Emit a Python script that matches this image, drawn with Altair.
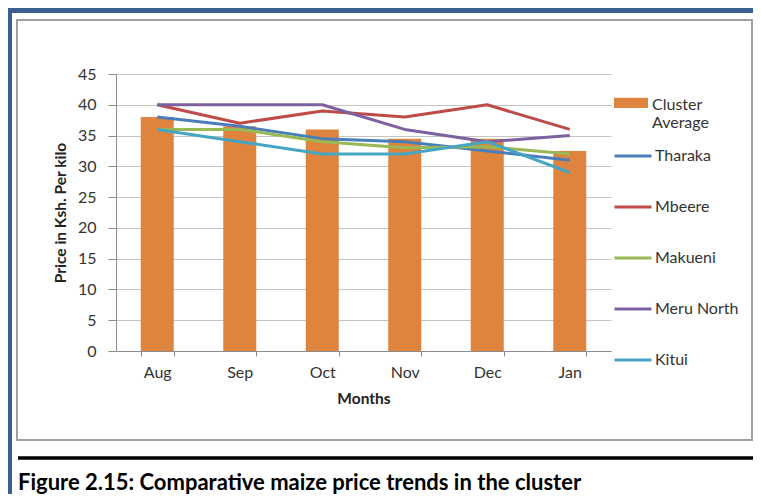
import altair as alt
import pandas as pd

MONTHS = ["Aug", "Sep", "Oct", "Nov", "Dec", "Jan"]
CLUSTER_AVG = [38, 36.5, 36, 34.5, 34.5, 32.5]
THARAKA = [38, 36.5, 34.5, 34, 32.5, 31]
MBEERE = [40, 37, 39, 38, 40, 36]
MAKUENI = [36, 36, 34, 33, 33.2, 32]
MERU_NORTH = [40, 40, 40, 36, 34, 35]
KITUI = [36, 34, 32, 32, 34, 29]

LINE_NAMES = ["Tharaka", "Mbeere", "Makueni", "Meru North", "Kitui"]
LINE_VALUES = [THARAKA, MBEERE, MAKUENI, MERU_NORTH, KITUI]
LINE_COLORS = ["#4A7EBB", "#BE4B48", "#98B954", "#7D60A0", "#46A5C2"]
BAR_NAME = "Cluster Average"
BAR_COLOR = "#DE843F"
Y_TICKS = [0, 5, 10, 15, 20, 25, 30, 35, 40, 45]
Y_TITLE = "Price in Ksh. Per kilo"
X_TITLE = "Months"
CAPTION = "Figure 2.15: Comparative maize price trends in the cluster"

FONT = "Lato"

bar_df = pd.DataFrame({"Month": MONTHS, "Price": CLUSTER_AVG, "Series": BAR_NAME})
rows = []
for name, vals in zip(LINE_NAMES, LINE_VALUES):
    for m, v in zip(MONTHS, vals):
        rows.append({"Month": m, "Price": v, "Series": name})
line_df = pd.DataFrame(rows)

x_enc = alt.X(
    "Month:N",
    sort=MONTHS,
    title=X_TITLE,
    scale=alt.Scale(paddingInner=0.6, paddingOuter=0.3),
    axis=alt.Axis(
        labelAngle=0, tickBand="extent", tickSize=5, labelPadding=8,
        titlePadding=11, domainColor="#8C8C8C", tickColor="#8C8C8C", grid=False,
    ),
)
y_enc = alt.Y(
    "Price:Q",
    title=Y_TITLE,
    scale=alt.Scale(domain=[0, 45], nice=False),
    axis=alt.Axis(
        values=Y_TICKS, tickSize=8, labelPadding=12, titlePadding=9,
        labelOverlap=False, domainColor="#8C8C8C", tickColor="#8C8C8C",
        gridColor="#C4C4C4", gridWidth=1.2,
    ),
)

bars = alt.Chart(bar_df).mark_bar().encode(
    x=x_enc,
    y=y_enc,
    fill=alt.Fill(
        "Series:N",
        scale=alt.Scale(domain=[BAR_NAME], range=[BAR_COLOR]),
        legend=alt.Legend(
            title=None, orient="none", legendX=498, legendY=6,
            symbolType="M-1,0.05H1V0.65H-1Z", symbolSize=1156,
            symbolStrokeWidth=0, labelOffset=4, padding=0,
            labelExpr="split(datum.label, ' ')", labelBaseline="top",
        ),
    ),
)

lines = alt.Chart(line_df).mark_line(strokeWidth=3, strokeJoin="round").encode(
    x=x_enc,
    y=y_enc,
    stroke=alt.Stroke(
        "Series:N",
        scale=alt.Scale(domain=LINE_NAMES, range=LINE_COLORS),
        legend=alt.Legend(
            title=None, orient="none", legendX=497, legendY=62,
            symbolType="stroke", symbolSize=1369, symbolStrokeWidth=3,
            labelOffset=2, rowPadding=23, padding=0,
        ),
    ),
)

one = pd.DataFrame({"k": [0]})
blue_top = alt.Chart(one).mark_rect(color="#3A5F92").encode(
    x=alt.value(-108), x2=alt.value(637), y=alt.value(-66), y2=alt.value(-61)
)
blue_left = alt.Chart(one).mark_rect(color="#3A5F92").encode(
    x=alt.value(-108), x2=alt.value(-104), y=alt.value(-66), y2=alt.value(420)
)
gray_box = alt.Chart(one).mark_rect(filled=False, stroke="#A0A0A0", strokeWidth=2).encode(
    x=alt.value(-99), x2=alt.value(636), y=alt.value(-54), y2=alt.value(366)
)
black_line = alt.Chart(one).mark_rule(color="black", strokeWidth=3.5).encode(
    x=alt.value(-98), x2=alt.value(637), y=alt.value(384)
)
caption = alt.Chart(one).mark_text(
    align="left", baseline="alphabetic", font=FONT, fontSize=22,
    fontWeight="bold", color="black",
).encode(x=alt.value(-98), y=alt.value(416), text=alt.value(CAPTION))

chart = alt.layer(
    blue_top, blue_left, gray_box, black_line, caption, bars, lines
).resolve_scale(x="shared", y="shared").properties(
    width=495, height=277,
    padding={"left": 108, "top": 66, "right": 142, "bottom": 151},
    autosize=alt.AutoSizeParams(type="none"),
    background="white",
).configure_view(stroke=None).configure_axis(
    labelFont=FONT, labelFontSize=16, labelColor="#333333",
    titleFont=FONT, titleFontSize=15.5, titleColor="#222222", titleFontWeight="bold",
).configure_legend(
    labelFont=FONT, labelFontSize=16, labelColor="#333333", labelLimit=200,
)

chart.save("out.html", embed_options={"renderer": "svg", "actions": False})
